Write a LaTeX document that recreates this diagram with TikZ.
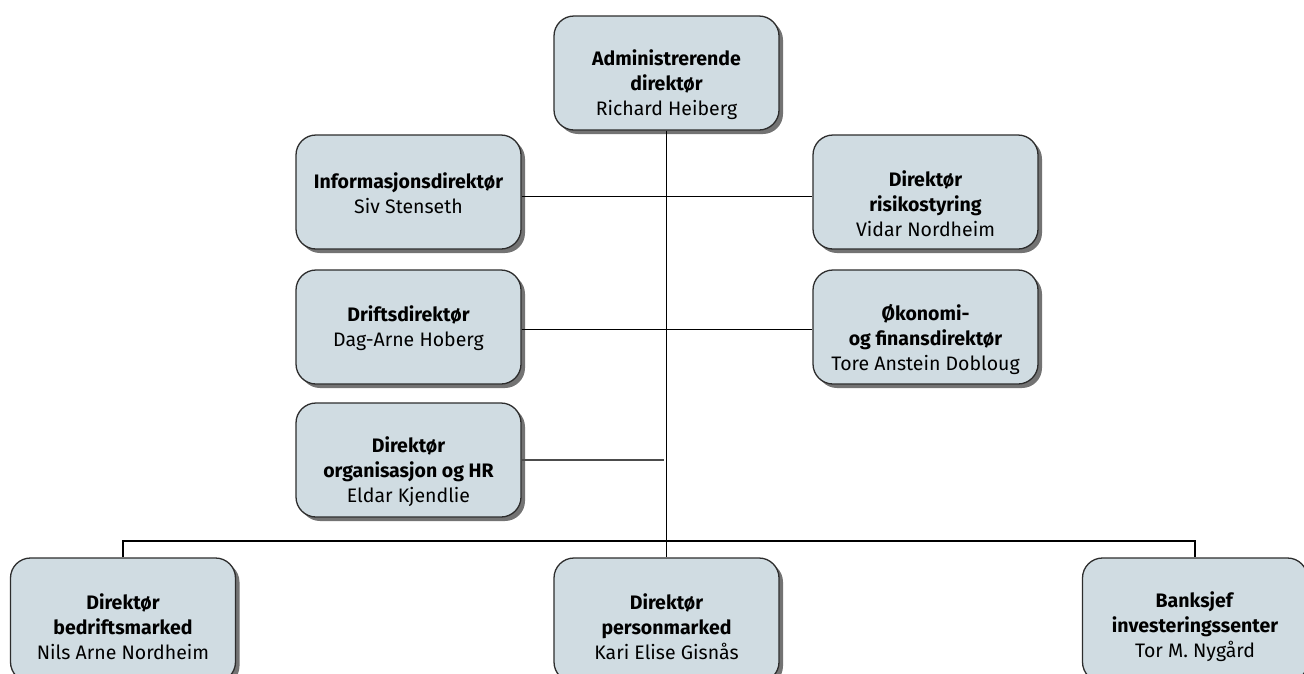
\documentclass[tikz,border=0pt]{standalone}
\usepackage{fontspec}
\setmainfont{Fira Sans}
\usetikzlibrary{shadows}
\definecolor{boxfill}{RGB}{208,220,226}
\definecolor{boxline}{RGB}{45,45,45}
\begin{document}
\begin{tikzpicture}[x=1pt,y=-1pt,
  box/.style={draw=boxline,line width=1.3pt,fill=boxfill,rounded corners=20pt,
    minimum width=225pt,minimum height=114pt,inner sep=0pt,
    drop shadow={shadow xshift=4pt,shadow yshift=-4pt,fill=black!55,opacity=1}},
  lowbox/.style={box,minimum height=124pt},
  txt/.style={align=center,font=\fontsize{19.5}{25}\selectfont,inner sep=0pt},
  conn/.style={line width=1.2pt,black}]
\useasboundingbox (0,0) rectangle (1304,673);
\clip (0,0) rectangle (1304,673);
% boxes
\node[box] (top)  at (666.5,73) {};
\node[box] (info) at (408.5,192) {};
\node[box] (risk) at (925.5,192) {};
\node[box] (drift) at (408.5,327) {};
\node[box] (okon) at (925.5,327) {};
\node[box] (hr) at (408.5,460) {};
\node[lowbox] (bed) at (123,620) {};
\node[lowbox] (pers) at (666.5,620) {};
\node[lowbox] (bank) at (1195,620) {};
% texts
\node[txt] (ttop) at ([yshift=-12pt]top.center) {\textbf{Administrerende}\\\textbf{direktør}\\Richard Heiberg};
\node[txt] (tinfo) at ([yshift=-1pt]info.center) {\textbf{Informasjonsdirektør}\\Siv Stenseth};
\node[txt] (trisk) at ([yshift=-12pt]risk.center) {\textbf{Direktør}\\\textbf{risikostyring}\\Vidar Nordheim};
\node[txt] (tdrift) at ([yshift=-1pt]drift.center) {\textbf{Driftsdirektør}\\Dag-Arne Hoberg};
\node[txt] (tokon) at ([yshift=-12pt]okon.center) {\textbf{Økonomi-}\\\textbf{og finansdirektør}\\Tore Anstein Dobloug};
\node[txt] (thr) at ([yshift=-12pt]hr.center) {\textbf{Direktør}\\\textbf{organisasjon og HR}\\Eldar Kjendlie};
\node[txt] (tbed) at ([yshift=-7pt]bed.center) {\textbf{Direktør}\\\textbf{bedriftsmarked}\\Nils Arne Nordheim};
\node[txt] (tpers) at ([yshift=-7pt]pers.center) {\textbf{Direktør}\\\textbf{personmarked}\\Kari Elise Gisnås};
\node[txt] (tbank) at ([yshift=-7pt]bank.center) {\textbf{Banksjef}\\\textbf{investeringssenter}\\Tor M. Nygård};
% connectors
\coordinate (bus) at (666.5,541);
\coordinate (hrend) at (663.5,460);
\draw[conn] (top.south) -- (bus);
\draw[conn] ([yshift=-4.7pt]info.east) -- ([yshift=-4.7pt]risk.west);
\draw[conn] ([yshift=-2.3pt]drift.east) -- ([yshift=-2.3pt]okon.west);
\draw[line width=1.5pt,black!70] (hr.east) -- (hrend);
\draw[conn] (bed.north) |- (bus) -| (bank.north);
\draw[conn] (bus) -- (pers.north);
\end{tikzpicture}
\end{document}
